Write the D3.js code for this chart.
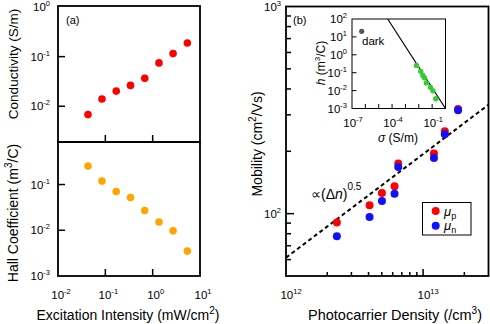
<!DOCTYPE html>
<html><head><meta charset="utf-8">
<script src="https://cdn.jsdelivr.net/npm/d3@7"></script>
<style>body{margin:0;background:#fff}svg{display:block;font-family:"Liberation Sans",Arial,sans-serif}</style>
</head><body>
<svg id="c" width="490" height="324"></svg>
<script>
// ---- data ----
const intensity = [0.043, 0.085, 0.17, 0.34, 0.68, 1.36, 2.7, 5.4];          // mW/cm^2
const conductivity = [0.0068, 0.014, 0.0202, 0.0263, 0.0368, 0.0748, 0.115, 0.188]; // S/m
const hallCoef = [0.255, 0.119, 0.0705, 0.052, 0.027, 0.0152, 0.0097, 0.0035];    // m^3/C
const density = [2.35e12, 4.07e12, 5.01e12, 6.19e12, 6.59e12, 1.20e13, 1.44e13, 1.80e13]; // /cm^3
const mobilityP = [90.5, 109.7, 125.8, 135.5, 174.4, 195, 249.8, 320];
const mobilityN = [77.7, 96.3, 115, 124.9, 167.9, 185.6, 241.6, 315.4];
const fitDensity = [1e12, 3e13];
const fitMobility = [61.3, 335.7];
const darkSigma = [5.3e-7];
const darkH = [20.5];
const insetFitSigma = [4.7e-5, 1];
const insetFitH = [100, 0.001];
const ticksA_x = [-2, -1, 0, 1];
const ticksA_top = [0, -1, -2];
const ticksA_bot = [-1, -2, -3];
const ticksB_x = [12, 13];
const ticksB_y = [2, 3];
const ticksInset_x = [-7, -4, -1];
const ticksInset_y = [2, 1, 0, -1, -2, -3];

const svg = d3.select("#c");
const RED = "#ff0000", BLUE = "#1010ff", ORANGE = "#ffa500", GREEN = "#33cc33";
const TS = 11.5, SS = 7.5, TITLE = 14;

function pow10Label(g, x, y, e, anchor, size, supSize, dy) {
  const t = g.append("text").attr("x", x).attr("y", y).attr("text-anchor", anchor)
    .attr("font-size", size).attr("fill", "#000");
  t.append("tspan").text("10");
  t.append("tspan").attr("dy", dy).attr("font-size", supSize).text(e);
  return t;
}

// ---------- Panel (a) ----------
const ax = d3.scaleLog().domain([1e-2, 1e1]).range([58, 200]);
const ayT = d3.scaleLog().domain([Math.pow(10, -2.72), Math.pow(10, 0.02)]).range([142, 6]);
const ayB = d3.scaleLog().domain([1e-3, Math.pow(10, -0.07)]).range([276, 142]);
const gA = svg.append("g");

gA.selectAll(".c").data(intensity).join("circle")
  .attr("cx", (d) => ax(d)).attr("cy", (d, i) => ayT(conductivity[i])).attr("r", 3.8).attr("fill", RED);
gA.selectAll(".h").data(intensity).join("circle")
  .attr("cx", (d) => ax(d)).attr("cy", (d, i) => ayB(hallCoef[i])).attr("r", 3.8).attr("fill", ORANGE);

[-1, -2].forEach(e => {
  gA.append("line").attr("x1", 58).attr("x2", 65).attr("y1", ayT(Math.pow(10, e))).attr("y2", ayT(Math.pow(10, e))).attr("stroke", "#000").attr("stroke-width", 1.5);
  gA.append("line").attr("x1", 58).attr("x2", 65).attr("y1", ayB(Math.pow(10, e))).attr("y2", ayB(Math.pow(10, e))).attr("stroke", "#000").attr("stroke-width", 1.5);
});
[-1, 0].forEach(e => {
  const x = ax(Math.pow(10, e));
  gA.append("line").attr("x1", x).attr("x2", x).attr("y1", 142).attr("y2", 135).attr("stroke", "#000").attr("stroke-width", 1.5);
  gA.append("line").attr("x1", x).attr("x2", x).attr("y1", 276).attr("y2", 269).attr("stroke", "#000").attr("stroke-width", 1.5);
});
gA.append("rect").attr("x", 58).attr("y", 6).attr("width", 142).attr("height", 136).attr("fill", "none").attr("stroke", "#000").attr("stroke-width", 1.8);
gA.append("rect").attr("x", 58).attr("y", 142).attr("width", 142).attr("height", 134).attr("fill", "none").attr("stroke", "#000").attr("stroke-width", 1.8);

ticksA_top.forEach(e => pow10Label(gA, 50, ayT(Math.pow(10, e)) + 4, e, "end", TS, SS, -5));
ticksA_bot.forEach(e => pow10Label(gA, 50, ayB(Math.pow(10, e)) + 4, e, "end", TS, SS, -5));
ticksA_x.forEach(e => pow10Label(gA, ax(Math.pow(10, e)) + 3, 299, e, "middle", TS, SS, -5));

gA.append("text").attr("x", 66).attr("y", 24).attr("font-size", 11).text("(a)");

gA.append("text").attr("transform", "translate(18,64) rotate(-90)").attr("text-anchor", "middle").attr("font-size", 13.5).text("Conductivity (S/m)");
const htT = gA.append("text").attr("transform", "translate(18,213) rotate(-90)").attr("text-anchor", "middle").attr("font-size", TITLE);
htT.append("tspan").text("Hall Coefficient (m");
htT.append("tspan").attr("dy", -6).attr("font-size", 10).text("3");
htT.append("tspan").attr("dy", 6).text("/C)");
const exT = gA.append("text").attr("x", 128).attr("y", 320).attr("text-anchor", "middle").attr("font-size", TITLE);
exT.append("tspan").text("Excitation Intensity (mW/cm");
exT.append("tspan").attr("dy", -6).attr("font-size", 10).text("2");
exT.append("tspan").attr("dy", 6).text(")");

// ---------- Panel (b) ----------
const bx = d3.scaleLog().domain([1e12, 3e13]).range([286, 488.5]);
const by = d3.scaleLog().domain([50, 1000]).range([276, 6.5]);
const gB = svg.append("g");

gB.append("path").datum(fitDensity.map((d, i) => [d, fitMobility[i]]))
  .attr("d", d3.line().x(d => bx(d[0])).y(d => by(d[1])))
  .attr("stroke", "#000").attr("stroke-width", 2).attr("stroke-dasharray", "4,3").attr("fill", "none");

gB.selectAll(".p").data(density).join("circle")
  .attr("cx", d => bx(d)).attr("cy", (d, i) => by(mobilityP[i])).attr("r", 4).attr("fill", RED);
gB.selectAll(".n").data(density).join("circle")
  .attr("cx", d => bx(d)).attr("cy", (d, i) => by(mobilityN[i])).attr("r", 4).attr("fill", BLUE);

by.ticks().forEach(v => {
  const major = Math.abs(Math.log10(v) - Math.round(Math.log10(v))) < 1e-9;
  const y = by(v);
  if (y < 7 || y > 275) return;
  gB.append("line").attr("x1", 286).attr("x2", 286 + (major ? 8 : 5)).attr("y1", y).attr("y2", y).attr("stroke", "#000").attr("stroke-width", 1.5);
});
bx.ticks().forEach(v => {
  const major = Math.abs(Math.log10(v) - Math.round(Math.log10(v))) < 1e-9;
  const x = bx(v);
  if (x <= 287 || x > 488) return;
  gB.append("line").attr("x1", x).attr("x2", x).attr("y1", 276).attr("y2", 276 - (major ? 7 : 4)).attr("stroke", "#000").attr("stroke-width", 1.5);
});
gB.append("rect").attr("x", 286).attr("y", 6.5).attr("width", 202.5).attr("height", 269.5).attr("fill", "none").attr("stroke", "#000").attr("stroke-width", 1.8);

ticksB_y.forEach(e => pow10Label(gB, 281, by(Math.pow(10, e)) + 4, e, "end", TS, SS, -5));
ticksB_x.forEach(e => pow10Label(gB, bx(Math.pow(10, e)) + 5, 299, e, "middle", TS, SS, -5));

gB.append("text").attr("x", 293).attr("y", 24).attr("font-size", 11).text("(b)");

const mT = gB.append("text").attr("transform", "translate(262,144) rotate(-90)").attr("text-anchor", "middle").attr("font-size", TITLE);
mT.append("tspan").text("Mobility (cm");
mT.append("tspan").attr("dy", -6).attr("font-size", 10).text("2");
mT.append("tspan").attr("dy", 6).text("/Vs)");
const pT = gB.append("text").attr("x", 395).attr("y", 320).attr("text-anchor", "middle").attr("font-size", 14.5);
pT.append("tspan").text("Photocarrier Density (/cm");
pT.append("tspan").attr("dy", -6).attr("font-size", 10).text("3");
pT.append("tspan").attr("dy", 6).text(")");

const pl = gB.append("text").attr("x", 311).attr("y", 199).attr("font-size", 14);
pl.append("tspan").text("\u221d(\u0394");
pl.append("tspan").attr("font-style", "italic").text("n");
pl.append("tspan").text(")");
pl.append("tspan").attr("dy", -9).attr("font-size", 10).text("0.5");

gB.append("rect").attr("x", 422.5).attr("y", 202.5).attr("width", 48.5).attr("height", 32.5).attr("fill", "#fff").attr("stroke", "#000").attr("stroke-width", 1);
[[RED, "p", 211], [BLUE, "n", 225.7]].forEach(([c, s, y]) => {
  gB.append("circle").attr("cx", 435.7).attr("cy", y).attr("r", 4).attr("fill", c);
  const t = gB.append("text").attr("x", 444).attr("y", y + 4.5).attr("font-size", 13);
  t.append("tspan").attr("font-style", "italic").text("\u03bc");
  t.append("tspan").attr("dy", 3).attr("font-size", 9).text(s);
});

// ---------- Inset ----------
const ix = d3.scaleLog().domain([1e-7, 1]).range([352, 445.5]);
const iy = d3.scaleLog().domain([1e-3, 1e2]).range([108.5, 19]);
const gI = svg.append("g");
gI.append("rect").attr("x", 352).attr("y", 19).attr("width", 93.5).attr("height", 89.5).attr("fill", "#fff");
gI.append("path").datum(insetFitSigma.map((d, i) => [d, insetFitH[i]]))
  .attr("d", d3.line().x(d => ix(d[0])).y(d => iy(d[1])))
  .attr("stroke", "#000").attr("stroke-width", 1.2).attr("fill", "none");
gI.selectAll(".g").data(conductivity).join("circle")
  .attr("cx", d => ix(d)).attr("cy", (d, i) => iy(hallCoef[i])).attr("r", 2.7).attr("fill", GREEN);
gI.selectAll(".d").data(darkSigma).join("circle")
  .attr("cx", d => ix(d)).attr("cy", (d, i) => iy(darkH[i])).attr("r", 2.6).attr("fill", "#555");
gI.append("text").attr("x", 362).attr("y", 45).attr("font-size", 11.5).text("dark");

for (let e = -6; e <= -1; e++) {
  const x = ix(Math.pow(10, e));
  gI.append("line").attr("x1", x).attr("x2", x).attr("y1", 108.5).attr("y2", 104).attr("stroke", "#000").attr("stroke-width", 1);
}
for (let e = -2; e <= 1; e++) {
  const y = iy(Math.pow(10, e));
  gI.append("line").attr("x1", 352).attr("x2", 356.5).attr("y1", y).attr("y2", y).attr("stroke", "#000").attr("stroke-width", 1);
}
gI.append("rect").attr("x", 352).attr("y", 19).attr("width", 93.5).attr("height", 89.5).attr("fill", "none").attr("stroke", "#000").attr("stroke-width", 1);

ticksInset_y.forEach(e => pow10Label(gI, 347, iy(Math.pow(10, e)) + 4, e, "end", TS, SS, -5));
ticksInset_x.forEach(e => pow10Label(gI, ix(Math.pow(10, e)) + 1, 127, e, "middle", TS, SS, -5));

const sT = gI.append("text").attr("x", 398).attr("y", 142).attr("text-anchor", "middle").attr("font-size", 12);
sT.append("tspan").attr("font-style", "italic").text("\u03c3");
sT.append("tspan").text(" (S/m)");
const hT = gI.append("text").attr("transform", "translate(325,63) rotate(-90)").attr("text-anchor", "middle").attr("font-size", 12);
hT.append("tspan").attr("font-style", "italic").text("h");
hT.append("tspan").text(" (m");
hT.append("tspan").attr("dy", -5).attr("font-size", 8).text("3");
hT.append("tspan").attr("dy", 5).text("/C)");
</script>
</body></html>
